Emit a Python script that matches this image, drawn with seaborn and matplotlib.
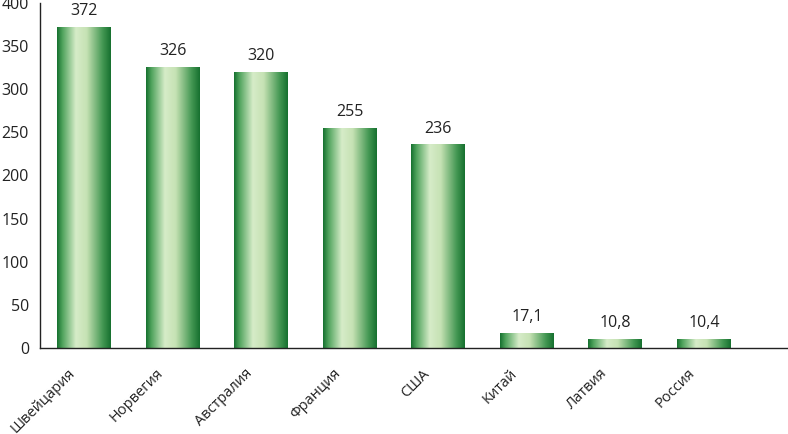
"""Bar chart with gradient-filled bars."""

import matplotlib.pyplot as plt
import matplotlib.colors as mcolors
import numpy as np
import pandas as pd
import seaborn as sns

countries = ["Швейцария", "Норвегия", "Австралия", "Франция", "США", "Китай", "Латвия", "Россия"]
values = [372, 326, 320, 255, 236, 17.1, 10.8, 10.4]
value_labels = ["372", "326", "320", "255", "236", "17,1", "10,8", "10,4"]
y_ticks = [0, 50, 100, 150, 200, 250, 300, 350, 400]

sns.set_style("white")
plt.rcParams["font.family"] = ["Open Sans", "DejaVu Sans"]

df = pd.DataFrame({"country": countries, "value": values})

fig = plt.figure(figsize=(7.88, 4.34), dpi=100)
ax = fig.add_axes([40 / 788, 1 - 348 / 434, 748 / 788, 345 / 434])

sns.barplot(data=df, x="country", y="value", color="#2e8b45", width=0.61, ax=ax)

# Horizontal gradient: dark edges, light centre
grad_cmap = mcolors.LinearSegmentedColormap.from_list(
    "bar_grad",
    [(0.0, "#16702f"), (0.1, "#4fa35c"), (0.35, "#d6ecc8"), (0.55, "#c6e2b4"),
     (0.85, "#439752"), (1.0, "#16702f")],
)
grad = np.linspace(0, 1, 256).reshape(1, -1)
for patch in ax.patches:
    x0, y0 = patch.get_x(), patch.get_y()
    w, h = patch.get_width(), patch.get_height()
    patch.set_facecolor("none")
    patch.set_edgecolor("none")
    im = ax.imshow(grad, cmap=grad_cmap, aspect="auto",
                   extent=[x0, x0 + w, y0, y0 + h], zorder=2)
    im.set_clip_path(patch)

for i, (v, lab) in enumerate(zip(values, value_labels)):
    ax.text(i, v + 9, lab, ha="center", va="bottom", fontsize=11.5, color="#222222")

# Category labels, rotated and slightly left of the bar centre
for i, name in enumerate(countries):
    ax.annotate(name, xy=(i, 0), xycoords=("data", "axes fraction"),
                xytext=(-12, -13), textcoords="offset points",
                rotation=45, ha="right", va="top", rotation_mode="anchor",
                fontsize=10.5, color="#222222", annotation_clip=False)

ax.set_xlim(-0.5, 7.95)
ax.set_ylim(0, 400)
ax.set_yticks(y_ticks)
ax.set_yticklabels([str(t) for t in y_ticks], fontsize=11.5, color="#222222")
ax.set_xticks(np.arange(-0.5, 8, 1))
ax.set_xticklabels([])
ax.tick_params(axis="x", length=5, width=1, color="#222222", direction="out")
ax.tick_params(axis="y", length=5, width=1, color="#222222", direction="out", pad=3)
ax.set_xlabel("")
ax.set_ylabel("")

for side in ["top", "right"]:
    ax.spines[side].set_visible(False)
for side in ["left", "bottom"]:
    ax.spines[side].set_color("#222222")
    ax.spines[side].set_linewidth(1)

fig.savefig("out.png", dpi=100)
